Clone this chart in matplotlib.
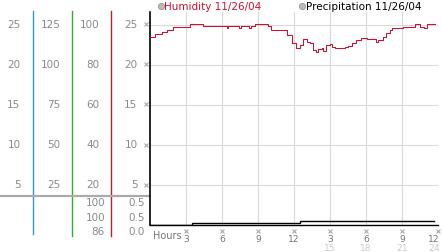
import matplotlib
matplotlib.use("Agg")
import matplotlib.pyplot as plt
import matplotlib.transforms as mtransforms

# ---------------- data ----------------
hum_hours = [0.0, 0.42, 0.97, 1.4, 1.9, 3.33, 4.4, 6.4, 6.5, 7.4, 7.6, 8.25, 8.4, 8.75,
             9.83, 10.1, 11.33, 11.4, 11.8, 12.2, 12.5, 12.75, 13.06, 13.33, 13.6, 13.83,
             14.0, 14.3, 14.44, 14.7, 15.0, 15.2, 15.4, 15.8, 16.25, 16.5, 16.8, 17.2,
             17.6, 18.05, 18.6, 18.8, 19.0, 19.4, 19.7, 20.0, 20.14, 21.1, 22.1, 22.5,
             22.8, 23.06, 23.75]
humidity = [93.8, 95, 96, 97, 98.8, 100, 99, 98, 99, 98, 99, 98, 99, 100,
            99, 97, 97, 94.5, 90.5, 88, 89.7, 92.7, 91.3, 90.5, 87, 86.3,
            87.7, 88.3, 86.7, 89.7, 90, 88.5, 88, 88.3, 88.8, 89.3, 90.5, 92.2,
            93, 92.7, 92.7, 91, 92.2, 93.8, 95.5, 97.2, 98, 98.8, 100, 98.8,
            98, 100, 100]

precip_hours = [0.0, 3.5, 12.5, 23.7]
precip = [0.0, 0.01, 0.02, 0.02]

main_ticks = [5, 10, 15, 20, 25]
col1_labels = ["5", "10", "15", "20", "25"]
col2_labels = ["25", "50", "75", "100", "125"]
col3_labels = ["20", "40", "60", "80", "100"]
col4_labels = ["5", "10", "15", "20", "25"]
x_ticks = [3, 6, 9, 12, 15, 18, 21, 24]
x_labels = ["3", "6", "9", "12", "3", "6", "9", "12"]
x_labels2_ticks = [15, 18, 21, 24]
x_labels2 = ["15", "18", "21", "24"]
readout_col3 = ["100", "100", "86"]
readout_col4 = ["0.5", "0.5", "0.0"]

W, H = 442, 253
fig = plt.figure(figsize=(W / 100, H / 100), dpi=100)
fig.patch.set_facecolor("white")

def px_rect(x0, y0, x1, y1):
    return [x0 / W, (H - y1) / H, (x1 - x0) / W, (y1 - y0) / H]

x_left, x_right, y_top, y_bot = 150, 438, 13, 225.5
ymax = (y_bot - y_top) / 8.0

ax = fig.add_axes(px_rect(x_left, y_top, x_right, y_bot))
ax.set_xlim(0, 24)
ax.set_ylim(0, ymax)
ax.set_facecolor("none")
for s in ["top", "right"]:
    ax.spines[s].set_visible(False)
ax.spines["left"].set_color("black")
ax.spines["left"].set_linewidth(1.2)
ax.spines["bottom"].set_color("black")
ax.spines["bottom"].set_linewidth(1.0)
ax.set_yticks(main_ticks)
ax.set_yticklabels([])
ax.set_xticks(x_ticks)
ax.set_xticklabels([])
ax.tick_params(length=0)
ax.grid(True, color="#d9d9d9", linewidth=0.8)
ax.set_axisbelow(True)

# humidity axis
axh = ax.twinx()
axh.set_ylim(0, ymax * 4)
axh.axis("off")
axh.plot(hum_hours, humidity, drawstyle="steps-post", color="#cc1133", lw=0.75)

# precipitation axis
axp = ax.twinx()
axp.set_ylim(0, ymax / 25.0)
axp.axis("off")
axp.plot(precip_hours, precip, drawstyle="steps-post", color="black", lw=1.0,
         solid_joinstyle="miter")

# overlay in pixel coordinates
ov = fig.add_axes([0, 0, 1, 1])
ov.set_xlim(0, W)
ov.set_ylim(H, 0)
ov.axis("off")
ov.set_zorder(-1)

fs = 7.5
gray = "#8a8a8a"
ytr = mtransforms.blended_transform_factory(ov.transData, ax.transData)
for v, a, b, c, d in zip(main_ticks, col1_labels, col2_labels, col3_labels, col4_labels):
    ov.text(20.5, v, a, transform=ytr, ha="right", va="center", fontsize=fs, color=gray)
    ov.text(60.5, v, b, transform=ytr, ha="right", va="center", fontsize=fs, color=gray)
    ov.text(99.5, v, c, transform=ytr, ha="right", va="center", fontsize=fs, color=gray)
    ov.text(137.5, v, d, transform=ytr, ha="right", va="center", fontsize=fs, color=gray)
ov.plot([146] * len(main_ticks), main_ticks, transform=ytr, ls="none", marker="x",
        ms=2.6, mew=0.8, color="#aaaaaa", clip_on=False)

# separators
ov.plot([33.3, 33.3], [12, 235], color="#3399cc", lw=1.0)
ov.plot([72.3, 72.3], [12, 237], color="#33aa33", lw=1.0)
ov.plot([111.3, 111.3], [12, 237], color="#bb2222", lw=1.0)
ov.plot([0, 149], [196.8, 196.8], color="#aaaaaa", lw=1.6)

# readouts
for i, (a, b) in enumerate(zip(readout_col3, readout_col4)):
    yy = 203.5 + 14.5 * i
    ov.text(105, yy, a, ha="right", va="center", fontsize=fs, color=gray)
    ov.text(144.5, yy, b, ha="right", va="center", fontsize=fs, color=gray)

# x labels
xfs = 6.6
xtr = mtransforms.blended_transform_factory(ax.transData, ov.transData)
shift = mtransforms.ScaledTranslation(-4 / 100, 0, fig.dpi_scale_trans)
for t, l in zip(x_ticks, x_labels):
    tr = xtr + shift if t == 24 else xtr
    ov.text(t, 239.5, l, transform=tr, ha="center", va="center", fontsize=xfs, color="#777777")
ov.plot(x_ticks, [232] * len(x_ticks), transform=xtr, ls="none", marker="x", ms=2.6,
        mew=0.8, color="#aaaaaa", clip_on=False)
for t, l in zip(x_labels2_ticks, x_labels2):
    tr = xtr + shift if t == 24 else xtr
    ov.text(t, 248.3, l, transform=tr, ha="center", va="center", fontsize=xfs, color="#cccccc")
ov.text(153, 236.5, "Hours", ha="left", va="center", fontsize=xfs + 0.4, color="#777777")

# legend
ov.plot([161], [6.5], marker="o", ms=4.5, mfc="#bbbbbb", mec="#999999", mew=0.6)
ov.text(164.5, 6.5, "Humidity 11/26/04", ha="left", va="center", fontsize=fs, color="#cc1133")
ov.plot([302], [6.5], marker="o", ms=4.5, mfc="#bbbbbb", mec="#999999", mew=0.6)
ov.text(305.5, 6.5, "Precipitation 11/26/04", ha="left", va="center", fontsize=fs, color="black")

fig.savefig("out.png", dpi=100)
